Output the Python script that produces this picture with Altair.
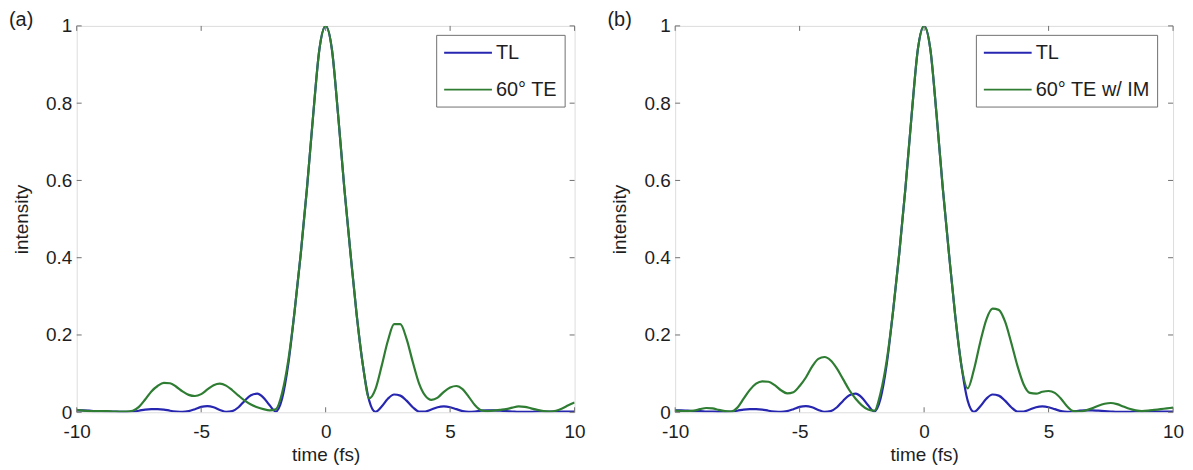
import altair as alt
import pandas as pd

# time samples (fs)
T = [-10.0, -9.75, -9.5, -9.25, -9.0, -8.75, -8.5, -8.25, -8.0, -7.75,
     -7.5, -7.25, -7.0, -6.75, -6.5, -6.25, -6.0, -5.75, -5.5, -5.25,
     -5.0, -4.75, -4.5, -4.25, -4.0, -3.75, -3.5, -3.25, -3.0, -2.75,
     -2.5, -2.25, -2.0, -1.75, -1.5, -1.25, -1.0, -0.75, -0.5, -0.25,
     0.0, 0.25, 0.5, 0.75, 1.0, 1.25, 1.5, 1.75, 2.0, 2.25,
     2.5, 2.75, 3.0, 3.25, 3.5, 3.75, 4.0, 4.25, 4.5, 4.75,
     5.0, 5.25, 5.5, 5.75, 6.0, 6.25, 6.5, 6.75, 7.0, 7.25,
     7.5, 7.75, 8.0, 8.25, 8.5, 8.75, 9.0, 9.25, 9.5, 9.75, 10.0]

# transform-limited pulse (same in both panels)
TL = [0.005, 0.005, 0.004, 0.003, 0.003, 0.002, 0.002, 0.001, 0.001, 0.002,
      0.004, 0.007, 0.008, 0.008, 0.007, 0.004, 0.002, 0.001, 0.003, 0.008,
      0.014, 0.016, 0.013, 0.006, 0.001, 0.003, 0.013, 0.030, 0.044, 0.048,
      0.038, 0.018, 0.002, 0.035, 0.125, 0.26, 0.41, 0.58, 0.77, 0.94,
      1.0, 0.94, 0.77, 0.58, 0.41, 0.25, 0.12, 0.03, 0.001, 0.015,
      0.035, 0.046, 0.043, 0.030, 0.013, 0.002, 0.002, 0.007, 0.013, 0.015,
      0.013, 0.008, 0.003, 0.001, 0.002, 0.004, 0.005, 0.005, 0.004, 0.003,
      0.002, 0.001, 0.001, 0.001, 0.002, 0.002, 0.002, 0.002, 0.002, 0.002, 0.002]

# (a) 60 deg TE
TE60 = [0.006, 0.004, 0.003, 0.003, 0.003, 0.003, 0.002, 0.002, 0.002, 0.004,
        0.014, 0.033, 0.054, 0.068, 0.076, 0.075, 0.066, 0.054, 0.045, 0.042,
        0.047, 0.059, 0.070, 0.074, 0.069, 0.057, 0.043, 0.030, 0.020, 0.013,
        0.008, 0.005, 0.008, 0.05, 0.135, 0.26, 0.41, 0.58, 0.77, 0.94,
        1.0, 0.94, 0.77, 0.58, 0.41, 0.25, 0.12, 0.036, 0.06, 0.12,
        0.185, 0.228, 0.228, 0.19, 0.13, 0.075, 0.043, 0.032, 0.038, 0.053,
        0.064, 0.068, 0.060, 0.040, 0.018, 0.005, 0.003, 0.004, 0.006, 0.008,
        0.012, 0.015, 0.014, 0.010, 0.006, 0.003, 0.002, 0.004, 0.010, 0.018, 0.025]

# (b) 60 deg TE with IM
TE60IM = [0.004, 0.003, 0.003, 0.004, 0.008, 0.011, 0.010, 0.006, 0.003, 0.002,
          0.012, 0.035, 0.058, 0.074, 0.080, 0.079, 0.070, 0.057, 0.049, 0.052,
          0.068, 0.090, 0.118, 0.138, 0.143, 0.134, 0.113, 0.085, 0.057, 0.035,
          0.018, 0.007, 0.004, 0.05, 0.135, 0.26, 0.41, 0.58, 0.77, 0.94,
          1.0, 0.94, 0.77, 0.58, 0.41, 0.25, 0.12, 0.062, 0.11, 0.18,
          0.24, 0.268, 0.265, 0.235, 0.18, 0.12, 0.072, 0.050, 0.048, 0.053,
          0.055, 0.050, 0.035, 0.015, 0.003, 0.002, 0.005, 0.010, 0.017, 0.022,
          0.024, 0.021, 0.015, 0.009, 0.005, 0.003, 0.004, 0.006, 0.008, 0.010, 0.012]

XTICKS = [-10, -5, 0, 5, 10]
YTICKS = [0, 0.2, 0.4, 0.6, 0.8, 1]

FONT = "Liberation Sans"
BLUE = "#2626b0"
GREEN = "#2f7d33"
FRAME = "#707070"
TXT = "#1e1e1e"
W, H = 500, 388


def panel(green, green_name, tag, legend_x):
    rows = [{"t": a, "v": b, "s": "TL"} for a, b in zip(T, TL)]
    rows += [{"t": a, "v": b, "s": green_name} for a, b in zip(T, green)]
    df = pd.DataFrame(rows)
    xs = alt.Scale(domain=[-10, 10], nice=False, zero=False)
    ys = alt.Scale(domain=[0, 1], nice=False, zero=False)
    xax = alt.Axis(values=XTICKS, title="time (fs)", labelExpr="'' + datum.value",
                   tickSize=0, domain=False, grid=False, labelFlush=False,
                   labelPadding=10, labelFontSize=19, labelFont=FONT, labelColor=TXT,
                   titleFontSize=19, titleFont=FONT, titleColor=TXT,
                   titleFontWeight="normal", titlePadding=4)
    yax = alt.Axis(values=YTICKS, title="intensity", labelExpr="'' + datum.value",
                   tickSize=0, domain=False, grid=False, labelFlush=False,
                   labelPadding=5, labelFontSize=19, labelFont=FONT, labelColor=TXT,
                   titleFontSize=19, titleFont=FONT, titleColor=TXT,
                   titleFontWeight="normal", titlePadding=14)
    lines = alt.Chart(df).mark_line(strokeWidth=2.2, interpolate="monotone", clip=True).encode(
        x=alt.X("t:Q", scale=xs, axis=xax),
        y=alt.Y("v:Q", scale=ys, axis=yax),
        color=alt.Color("s:N",
                        scale=alt.Scale(domain=["TL", green_name], range=[BLUE, GREEN]),
                        legend=alt.Legend(orient="none", legendX=legend_x, legendY=9,
                                          title=None, symbolType="M-1,0H3.8",
                                          symbolSize=400, symbolStrokeWidth=2,
                                          labelFontSize=20, labelFont=FONT, labelColor=TXT,
                                          labelOffset=31, strokeColor=FRAME,
                                          fillColor="white", padding=7, rowPadding=16)),
    )
    xt = pd.DataFrame({"t": XTICKS})
    yt = pd.DataFrame({"v": YTICKS})
    tb = alt.Chart(xt).mark_rule(color=FRAME, strokeWidth=1).encode(
        x=alt.X("t:Q", scale=xs, axis=xax), y=alt.value(H), y2=alt.value(H - 5))
    tt = alt.Chart(xt).mark_rule(color=FRAME, strokeWidth=1).encode(
        x=alt.X("t:Q", scale=xs, axis=xax), y=alt.value(0), y2=alt.value(5))
    tl = alt.Chart(yt).mark_rule(color=FRAME, strokeWidth=1).encode(
        y=alt.Y("v:Q", scale=ys, axis=yax), x=alt.value(0), x2=alt.value(5))
    tr = alt.Chart(yt).mark_rule(color=FRAME, strokeWidth=1).encode(
        y=alt.Y("v:Q", scale=ys, axis=yax), x=alt.value(W), x2=alt.value(W - 5))
    lab = alt.Chart(pd.DataFrame({"lab": [tag]})).mark_text(
        align="left", baseline="middle", fontSize=20, font=FONT, color=TXT).encode(
        x=alt.value(-68), y=alt.value(-6), text="lab:N")
    return alt.layer(lines, tb, tt, tl, tr, lab).properties(width=W, height=H)


left = panel(TE60, "60° TE", "(a)", 361)
right = panel(TE60IM, "60° TE w/ IM", "(b)", 302)

chart = alt.hconcat(left, right, spacing=20).resolve_scale(color="independent").properties(
    padding={"left": 0, "top": 0, "right": 0, "bottom": 0}
).configure_view(stroke=FRAME, strokeWidth=1.3).configure(background="white")

chart.save("out.html", embed_options={"renderer": "svg", "actions": False})
